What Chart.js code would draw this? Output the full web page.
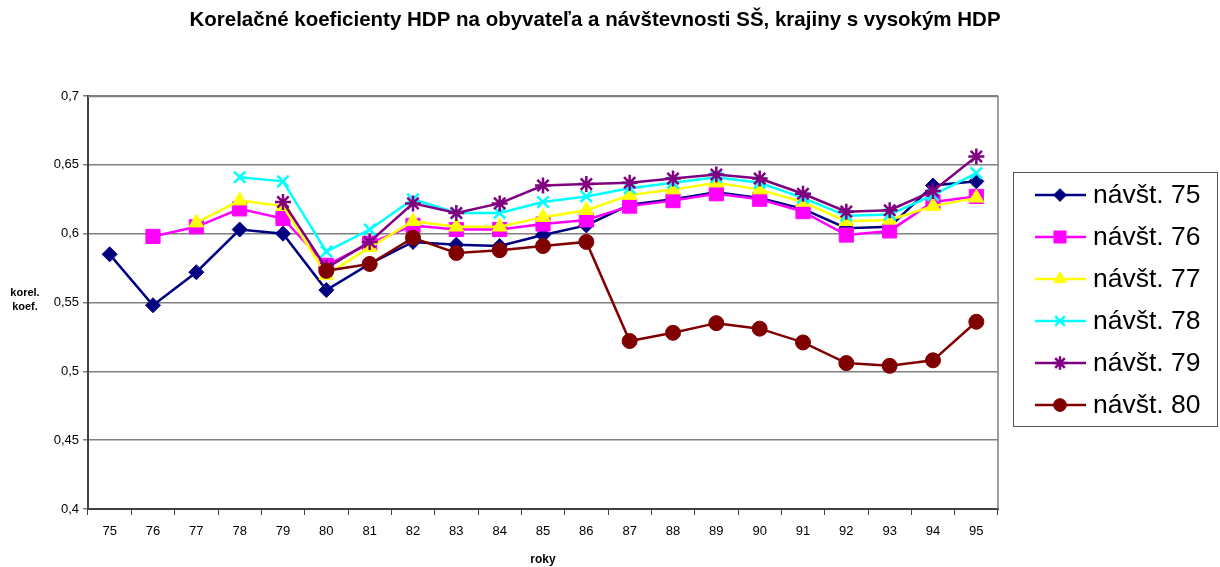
<!DOCTYPE html>
<html>
<head>
<meta charset="utf-8">
<script src="https://cdn.jsdelivr.net/npm/chart.js@4.4.0/dist/chart.umd.min.js"></script>
<style>
  html, body { margin: 0; padding: 0; background: #fff; }
  #wrap { width: 1220px; height: 567px; }
</style>
</head>
<body>
<div id="wrap"><canvas id="korelChart" width="1220" height="567"></canvas></div>
<script>
/* ================================
   DATA
================================ */
const roky = ['75','76','77','78','79','80','81','82','83','84','85','86','87','88','89','90','91','92','93','94','95'];
const seriesNames = ['návšt. 75','návšt. 76','návšt. 77','návšt. 78','návšt. 79','návšt. 80'];
const chartTitle = 'Korelačné koeficienty HDP na obyvateľa a návštevnosti SŠ, krajiny s vysokým HDP';

const navst75 = [0.585, 0.548, 0.572, 0.603, 0.600, 0.559, 0.578, 0.594, 0.592, 0.591, 0.599, 0.606, 0.621, 0.625, 0.630, 0.626, 0.618, 0.604, 0.605, 0.635, 0.638];
const navst76 = [null, 0.598, 0.605, 0.618, 0.611, 0.577, 0.593, 0.606, 0.603, 0.603, 0.607, 0.610, 0.620, 0.624, 0.629, 0.625, 0.616, 0.599, 0.602, 0.623, 0.627];
const navst77 = [null, null, 0.608, 0.624, 0.620, 0.570, 0.590, 0.609, 0.605, 0.605, 0.612, 0.617, 0.628, 0.632, 0.637, 0.632, 0.623, 0.609, 0.610, 0.620, 0.626];
const navst78 = [null, null, null, 0.641, 0.638, 0.587, 0.603, 0.625, 0.615, 0.615, 0.623, 0.627, 0.633, 0.637, 0.641, 0.637, 0.626, 0.613, 0.614, 0.628, 0.644];
const navst79 = [null, null, null, null, 0.623, 0.575, 0.594, 0.622, 0.615, 0.622, 0.635, 0.636, 0.637, 0.640, 0.643, 0.640, 0.629, 0.616, 0.617, 0.631, 0.656];
const navst80 = [null, null, null, null, null, 0.573, 0.578, 0.597, 0.586, 0.588, 0.591, 0.594, 0.522, 0.528, 0.535, 0.531, 0.521, 0.506, 0.504, 0.508, 0.536];

const yTicks = [0.4, 0.45, 0.5, 0.55, 0.6, 0.65, 0.7];

/* ================================
   STYLES
================================ */
const FONT = 'Arial, "Liberation Sans", sans-serif';
const colors = ['#000080', '#FF00FF', '#FFFF00', '#00FFFF', '#800080', '#800000'];
const markers = ['rectRot', 'rect', 'triangle', 'crossRot', 'star', 'circle'];
const markerSize = [7.5, 10, 8.5, 8, 8, 7.5];
const allData = [navst75, navst76, navst77, navst78, navst79, navst80];

const fmt = v => String(Math.round(v * 100) / 100).replace('.', ',');

// ramik plochy grafu (sedy)
const plotBorder = {
    id: 'plotBorder',
    beforeDatasetsDraw(chart) {
        const a = chart.chartArea, ctx = chart.ctx;
        ctx.save();
        ctx.strokeStyle = '#808080';
        ctx.lineWidth = 1.5;
        ctx.beginPath();
        ctx.moveTo(a.left, a.top + 0.5);
        ctx.lineTo(a.right, a.top + 0.5);
        ctx.lineTo(a.right, a.bottom);
        ctx.stroke();
        ctx.restore();
    }
};

// nadpis, legenda s ramcekom + popis osi y
const sideLegend = {
    id: 'sideLegend',
    afterDraw(chart) {
        const ctx = chart.ctx;
        ctx.save();

        ctx.fillStyle = '#000';
        ctx.font = 'bold 20.5px ' + FONT;
        ctx.textAlign = 'center';
        ctx.textBaseline = 'middle';
        ctx.fillText(chartTitle, 595, 20);

        ctx.strokeStyle = '#555';
        ctx.lineWidth = 1;
        ctx.strokeRect(1013.5, 172.5, 204, 254);

        chart.data.datasets.forEach((ds, i) => {
            const y = 195 + 42 * i;
            ctx.strokeStyle = ds.borderColor;
            ctx.lineWidth = 2.5;
            ctx.beginPath();
            ctx.moveTo(1035, y);
            ctx.lineTo(1086, y);
            ctx.stroke();
            ctx.fillStyle = ds.pointBackgroundColor;
            ctx.strokeStyle = ds.pointBorderColor;
            ctx.lineWidth = ds.pointBorderWidth;
            Chart.helpers.drawPoint(ctx, { pointStyle: ds.pointStyle, radius: ds.pointRadius * 0.85, borderWidth: ds.pointBorderWidth }, 1060, y);
            ctx.fillStyle = '#000';
            ctx.font = '26.5px ' + FONT;
            ctx.textAlign = 'left';
            ctx.textBaseline = 'middle';
            ctx.fillText(ds.label, 1093, y + 1);
        });

        ctx.fillStyle = '#000';
        ctx.font = 'bold 11px ' + FONT;
        ctx.textAlign = 'center';
        ctx.textBaseline = 'middle';
        ctx.fillText('korel.', 25, 293);
        ctx.fillText('koef.', 25, 307);
        ctx.restore();
    }
};

window.onload = () => {
    const ctx = document.getElementById('korelChart').getContext('2d');
    new Chart(ctx, {
        type: 'line',
        data: {
            labels: roky,
            datasets: allData.map((d, i) => ({
                label: seriesNames[i],
                data: d,
                borderColor: colors[i],
                backgroundColor: colors[i],
                borderWidth: 2.5,
                pointStyle: markers[i],
                pointRadius: markerSize[i],
                pointBackgroundColor: colors[i],
                pointBorderColor: colors[i],
                pointBorderWidth: (markers[i] === 'crossRot' || markers[i] === 'star') ? 2.5 : 1,
                tension: 0,
                order: 5 - i
            }))
        },
        options: {
            responsive: false,
            devicePixelRatio: 1,
            animation: false,
            layout: { padding: { left: 0, right: 222, top: 96, bottom: 0 } },
            plugins: {
                legend: { display: false },
                tooltip: { enabled: false },
                title: { display: false }
            },
            scales: {
                x: {
                    offset: true,
                    grid: { drawOnChartArea: false, drawTicks: true, tickLength: 6, color: '#404040', offset: true },
                    border: { color: '#404040', width: 2 },
                    ticks: { color: '#000', padding: 9, font: { family: FONT, size: 13 } },
                    title: {
                        display: true, text: 'roky', color: '#000', padding: { top: 6, bottom: 0 },
                        font: { family: FONT, size: 12, weight: 'bold' }
                    },
                    afterFit: s => { s.height = 58; }
                },
                y: {
                    min: 0.4,
                    max: 0.7,
                    afterBuildTicks: s => { s.ticks = yTicks.map(v => ({ value: v })); },
                    grid: { color: '#808080', lineWidth: 1.5, drawTicks: true, tickLength: 5 },
                    border: { color: '#404040', width: 2 },
                    ticks: {
                        color: '#000', padding: 4,
                        font: { family: FONT, size: 13 },
                        callback: v => fmt(v)
                    },
                    afterFit: s => { s.width = 88; }
                }
            }
        },
        plugins: [plotBorder, sideLegend]
    });
};
</script>
</body>
</html>
